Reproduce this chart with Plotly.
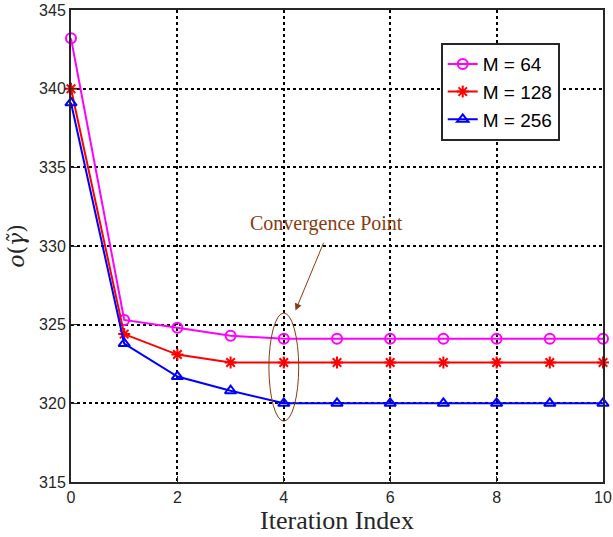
import plotly.graph_objects as go

iters = [0, 1, 2, 3, 4, 5, 6, 7, 8, 9, 10]
m64 = [343.2, 325.3, 324.8, 324.3, 324.1, 324.1, 324.1, 324.1, 324.1, 324.1, 324.1]
m128 = [340.0, 324.4, 323.1, 322.6, 322.6, 322.6, 322.6, 322.6, 322.6, 322.6, 322.6]
m256 = [339.1, 323.8, 321.7, 320.8, 320.0, 320.0, 320.0, 320.0, 320.0, 320.0, 320.0]
names = ["M = 64", "M = 128", "M = 256"]
colors = ["#FF00FF", "#FF0000", "#0000FF"]
symbols = ["circle-open", "asterisk-open", "triangle-up-open"]
xticks = [0, 2, 4, 6, 8, 10]
yticks = [315, 320, 325, 330, 335, 340, 345]

fig = go.Figure()
for ys, nm, c, s in zip([m64, m128, m256], names, colors, symbols):
    fig.add_trace(go.Scatter(
        x=iters, y=ys, name=nm, mode="lines+markers", cliponaxis=False,
        line=dict(color=c, width=2),
        marker=dict(symbol=s, size=10, color=c, line=dict(color=c, width=2)),
    ))

brown = "#8B3A0F"
fig.add_shape(type="circle", xref="x", yref="y", x0=3.72, x1=4.28, y0=318.87, y1=325.74,
              line=dict(color=brown, width=1))
fig.add_annotation(x=4.22, y=325.9, ax=4.76, ay=330.3, xref="x", yref="y", axref="x", ayref="y",
                   showarrow=True, arrowhead=2, arrowsize=1.4, arrowwidth=1, arrowcolor=brown, text="")
fig.add_annotation(x=4.8, y=330.6, xref="x", yref="y", text="Convergence Point", showarrow=False,
                   font=dict(family="Liberation Serif", size=20, color=brown), yanchor="bottom")

axis_common = dict(showline=True, linecolor="#262626", linewidth=2, mirror=True,
                   showgrid=True, gridcolor="black", griddash="dot", gridwidth=1.5,
                   ticks="inside", ticklen=6, tickcolor="#262626", zeroline=False, automargin=False,
                   tickfont=dict(family="Liberation Sans", size=16, color="#262626"))
fig.update_xaxes(range=[0, 10], tickvals=xticks, **axis_common,
                 title=dict(text="Iteration Index", font=dict(family="Liberation Serif", size=26, color="#262626"), standoff=2))
fig.update_yaxes(range=[315, 345], tickvals=yticks, **axis_common,
                 title=dict(text="<i>o</i>(<i>γ\u0303</i>)", font=dict(family="DejaVu Serif", size=22, color="#262626"), standoff=8))

fig.update_layout(
    width=613, height=537, margin=dict(l=71, r=10, t=10, b=55),
    plot_bgcolor="white", paper_bgcolor="white",
    legend=dict(x=0.695, y=0.93, xanchor="left", yanchor="top", bgcolor="white",
                bordercolor="#262626", borderwidth=2,
                font=dict(family="Liberation Sans", size=19, color="black"),
                tracegroupgap=0, itemwidth=30),
    showlegend=True,
)
fig.write_html("out.html")
